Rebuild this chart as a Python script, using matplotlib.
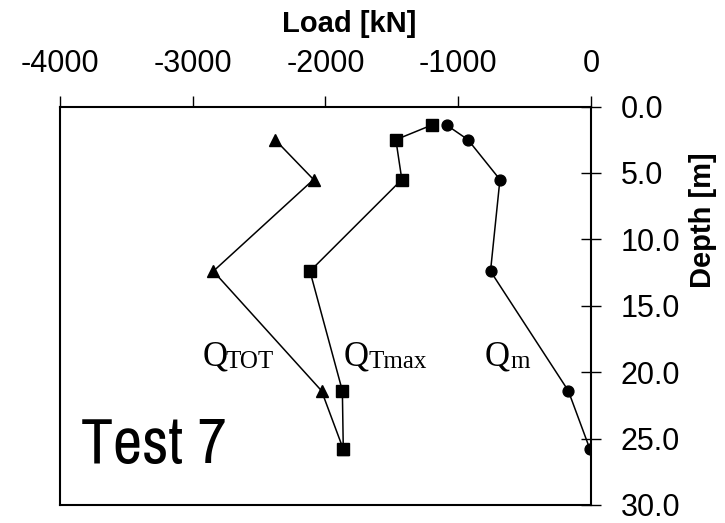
import matplotlib
matplotlib.use("Agg")
import matplotlib.pyplot as plt
from matplotlib.ticker import FormatStrFormatter

plt.rcParams["font.family"] = ["Liberation Sans", "DejaVu Sans"]
plt.rcParams["axes.unicode_minus"] = False

# Data (load in kN, depth in m)
depth_all = [1.4, 2.5, 5.5, 12.4, 21.4, 25.8]
depth_tot = [2.5, 5.5, 12.4, 21.4, 25.8]
q_tot = [-2380, -2090, -2845, -2030, -1866]
q_tmax = [-1200, -1470, -1425, -2117, -1873, -1866]
q_m = [-1087, -927, -686, -757, -171, -8]

x_ticks = [-4000, -3000, -2000, -1000, 0]
y_ticks = [0, 5, 10, 15, 20, 25, 30]

fig = plt.figure(figsize=(7.25, 5.23), dpi=100)
ax = fig.add_axes([60 / 725, 1 - 505 / 523, (591 - 60) / 725, (505 - 106.5) / 523])

line_kw = dict(color="black", lw=1.1)
ax.plot(q_tot, depth_tot, marker="^", ms=9, **line_kw)
ax.plot(q_tmax, depth_all, marker="s", ms=8.2, **line_kw)
ax.plot(q_m, depth_all, marker="o", ms=7.8, **line_kw)

ax.set_xlim(-4000, 0)
ax.set_ylim(30, 0)
ax.set_xticks(x_ticks)
ax.set_yticks(y_ticks)
ax.yaxis.set_major_formatter(FormatStrFormatter("%.1f"))

ax.xaxis.tick_top()
ax.yaxis.tick_right()
ax.tick_params(axis="x", direction="out", length=8, width=1, labelsize=22, pad=12)
ax.tick_params(axis="y", direction="inout", length=15, width=1, labelsize=22, pad=14)
for sp in ax.spines.values():
    sp.set_linewidth(1.5)

fig.text(349 / 725, 1 - 32 / 523, "Load [kN]", fontsize=21, fontweight="bold",
         ha="center", va="baseline")
fig.text(703 / 725, 1 - 220 / 523, "Depth [m]", fontsize=21, fontweight="bold",
         ha="center", va="center", rotation=90)

# Curve labels: big serif Q with a smaller subscript next to it
serif = ["Liberation Serif", "DejaVu Serif"]
labels = [("TOT", -2925, -2750), ("Tmax", -1861, -1678), ("m", -798, -610)]
for sub, xq, xs in labels:
    ax.text(xq, 19.47, "Q", family=serif, fontsize=25, va="baseline")
    ax.text(xs, 19.67, sub, family=serif, fontsize=18, va="baseline")

narrow = ["Liberation Sans Narrow", "Arial Narrow", "Archivo Narrow", "DejaVu Sans"]
ax.text(-3840, 26.85, "Test 7", fontsize=46, va="baseline", family=narrow)

fig.savefig("out.png", dpi=100)
